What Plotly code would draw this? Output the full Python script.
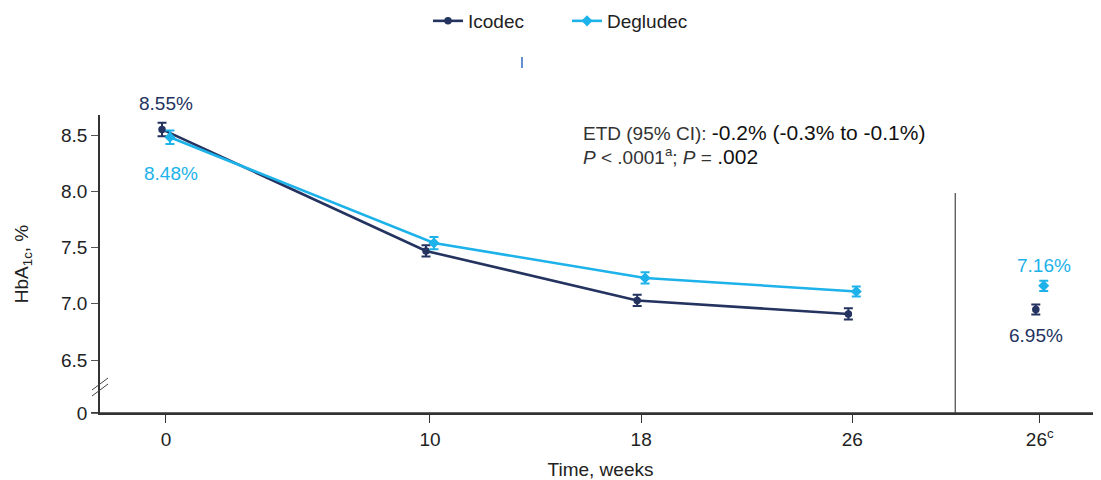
import plotly.graph_objects as go

# ---- data ----
weeks = [0, 10, 18, 26]
icodec = [8.55, 7.47, 7.03, 6.91]
icodec_se = [0.06, 0.05, 0.05, 0.05]
degludec = [8.48, 7.54, 7.23, 7.11]
degludec_se = [0.06, 0.055, 0.05, 0.045]
final_label = "26<sup>c</sup>"
icodec_final = [6.95]
icodec_final_se = [0.045]
degludec_final = [7.16]
degludec_final_se = [0.045]
ytick_vals = [6.5, 7.0, 7.5, 8.0, 8.5]
ytick_text = ["6.5", "7.0", "7.5", "8.0", "8.5"]

# ---- layout constants ----
NAVY = "#24335f"
BLUE = "#1db2ea"
FONT = "Liberation Sans, Arial, sans-serif"
DODGE = 0.15
FINAL_X = 33.1
SEP_X = 29.9
YMIN, YMAX = 6.03, 8.678
ZERO_TICK = 6.031
PW, PH = 1001, 298  # plot area size in px (page: x 100..1101, y 115..413)
FIG_H = 472

fig = go.Figure()

def add_series(name, xs, ys, se, color, symbol, size, showlegend, mode):
    fig.add_trace(go.Scatter(
        x=xs, y=ys, name=name, mode=mode, showlegend=showlegend,
        line=dict(color=color, width=2.6),
        marker=dict(color=color, symbol=symbol, size=size),
        error_y=dict(type="data", array=se, visible=True, color=color,
                     thickness=2, width=4.5),
        hoverinfo="skip",
    ))

add_series("Icodec", [w - DODGE for w in weeks], icodec, icodec_se, NAVY,
           "circle", 7.5, True, "lines+markers")
add_series("Degludec", [w + DODGE for w in weeks], degludec, degludec_se, BLUE,
           "diamond", 8.5, True, "lines+markers")
add_series("Icodec", [FINAL_X - DODGE], icodec_final, icodec_final_se, NAVY,
           "circle", 7.5, False, "markers")
add_series("Degludec", [FINAL_X + DODGE], degludec_final, degludec_final_se, BLUE,
           "diamond", 8.5, False, "markers")

annotations = [
    dict(x=0, y=icodec[0], text=f"{icodec[0]:.2f}%", yshift=26, color=NAVY),
    dict(x=0.2, y=degludec[0], text=f"{degludec[0]:.2f}%", yshift=-36, color=BLUE),
    dict(x=FINAL_X + DODGE, y=degludec_final[0], text=f"{degludec_final[0]:.2f}%",
         yshift=20, color=BLUE),
    dict(x=FINAL_X - DODGE, y=icodec_final[0], text=f"{icodec_final[0]:.2f}%",
         yshift=-26, color=NAVY),
]
for a in annotations:
    c = a.pop("color")
    a.update(xref="x", yref="y", showarrow=False,
             font=dict(family=FONT, size=19, color=c))

annotations += [
    dict(xref="paper", yref="paper", x=(581 - 100) / PW, y=(413 - 132) / PH,
         xanchor="left", yanchor="middle", showarrow=False,
         text="<span style='font-size:19px;color:#333'>ETD (95% CI):</span> "
              "<span style='font-size:21px'>-0.2% (-0.3% to -0.1%)</span>",
         font=dict(family=FONT, color="#111")),
    dict(xref="paper", yref="paper", x=(581 - 100) / PW, y=(413 - 156) / PH,
         xanchor="left", yanchor="middle", showarrow=False,
         text="<span style='font-size:19px;color:#333'><i>P</i> &lt; .0001<sup>a</sup>; <i>P</i> = </span>"
              "<span style='font-size:21px'>.002</span>",
         font=dict(family=FONT, color="#111")),
]

shapes = [
    # separator line
    dict(type="line", xref="x", yref="y", x0=SEP_X, x1=SEP_X, y0=YMIN, y1=7.985,
         line=dict(color="#555", width=1.3)),
    # axis break marks
    dict(type="line", xref="paper", yref="paper",
         x0=-8 / PW, x1=8 / PW, y0=(413 - 396) / PH, y1=(413 - 384) / PH,
         line=dict(color="#444", width=1)),
    dict(type="line", xref="paper", yref="paper",
         x0=-8 / PW, x1=8 / PW, y0=(413 - 390) / PH, y1=(413 - 378) / PH,
         line=dict(color="#444", width=1)),
    # x axis line extending slightly left of y axis
    dict(type="line", xref="paper", yref="paper",
         x0=-9 / PW, x1=1, y0=0, y1=0, line=dict(color="#333", width=1.5)),
    # small blue stroke under the legend
    dict(type="line", xref="paper", yref="paper",
         x0=(522 - 100) / PW, x1=(522 - 100) / PW,
         y0=(413 - 68) / PH, y1=(413 - 57) / PH,
         line=dict(color="#2f6cc8", width=1.5)),
]

fig.update_layout(
    # page body has an 8px margin, so the figure is offset by 8px
    width=1093, height=FIG_H,
    margin=dict(l=92, r=0, t=107, b=67),
    plot_bgcolor="white", paper_bgcolor="white",
    font=dict(family=FONT, size=19, color="#222"),
    showlegend=True,
    legend=dict(orientation="h", x=(428 - 100) / PW, xanchor="left",
                yref="container", y=1 - (21 - 8) / FIG_H, yanchor="middle",
                font=dict(size=19, color="#222"), entrywidth=94),
    annotations=annotations,
    shapes=shapes,
    xaxis=dict(
        range=[-2.5, 35.42], automargin=False,
        tickvals=weeks + [FINAL_X],
        ticktext=[str(w) for w in weeks] + [final_label],
        ticks="outside", ticklen=8, tickcolor="#333", tickwidth=1,
        showline=True, linecolor="#333", linewidth=1.5,
        showgrid=False, zeroline=False,
        title=dict(text="Time, weeks", font=dict(size=19), standoff=15),
        tickfont=dict(size=19),
    ),
    yaxis=dict(
        range=[YMIN, YMAX], automargin=False,
        tickvals=[ZERO_TICK] + ytick_vals,
        ticktext=["0"] + ytick_text,
        ticks="outside", ticklen=7, tickcolor="#555", tickwidth=1,
        showline=True, linecolor="#333", linewidth=1.5,
        showgrid=False, zeroline=False,
        title=dict(text="HbA<sub>1c</sub>, %", font=dict(size=19), standoff=27),
        tickfont=dict(size=19),
    ),
)

fig.write_html("out.html")
